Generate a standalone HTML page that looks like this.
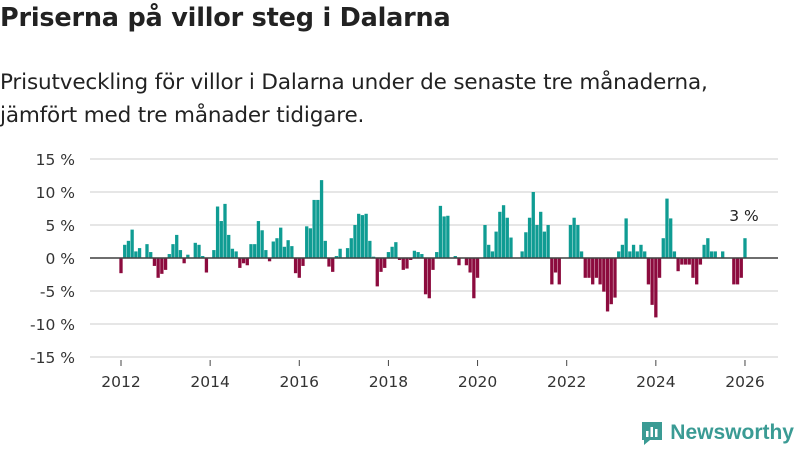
<!DOCTYPE html>
<html><head><meta charset="utf-8">
<style>
body{margin:0;width:800px;height:450px;background:#fff;font-family:"DejaVu Sans",sans-serif;color:#222;overflow:hidden;position:relative}
#title{position:absolute;left:0;top:3px;font-size:25.5px;font-weight:bold;letter-spacing:-0.2px}
#sub{position:absolute;left:0;top:66px;font-size:21.5px;line-height:33px;color:#222;letter-spacing:-0.15px}
#chart{position:absolute;left:0;top:0}
#logo{position:absolute;right:6px;top:420px;display:flex;align-items:center;gap:6px;color:#3a9b94;font-size:21px;font-weight:bold;font-family:"Liberation Sans",sans-serif}
</style></head><body>
<div id="title">Priserna på villor steg i Dalarna</div>
<div id="sub">Prisutveckling för villor i Dalarna under de senaste tre månaderna,<br>jämfört med tre månader tidigare.</div>
<svg id="chart" width="800" height="450"></svg>
<div id="logo">
<svg width="24" height="26" viewBox="0 0 24 26"><path d="M2 2h20v18H10l-6 5v-5H2z" fill="#3a9b94"/><rect x="6" y="11" width="2.5" height="6" fill="#fff"/><rect x="10.5" y="7" width="2.5" height="10" fill="#fff"/><rect x="15" y="9" width="2.5" height="8" fill="#fff"/></svg>
<span>Newsworthy</span></div>
<script>
const startYear = 2012;
const values = [
-2.3,2.0,2.6,4.3,1.0,1.5,0,2.1,0.9,-1.2,-3.0,-2.4,-1.8,0.6,2.1,3.5,1.2,-0.8,0.5,0,2.3,2.0,0.3,-2.2,
0,1.2,7.8,5.6,8.2,3.5,1.4,1.0,-1.5,-0.8,-1.1,2.1,2.1,5.6,4.2,1.2,-0.5,2.5,3.0,4.6,1.7,2.7,1.8,-2.3,
-3.0,-1.2,4.8,4.5,8.8,8.8,11.8,2.6,-1.3,-2.1,0.3,1.4,0,1.5,3.0,5.0,6.7,6.5,6.7,2.6,0.2,-4.3,-2.1,-1.5,
0.9,1.7,2.4,-0.3,-1.8,-1.6,-0.3,1.1,0.9,0.6,-5.5,-6.1,-1.8,0.9,7.9,6.3,6.4,0,0.3,-1.1,0,-1.1,-2.2,-6.1,-3.0,0,
5.0,2.0,1.0,4.0,7.0,8.0,6.1,3.1,0,0,1.0,3.9,6.1,10.0,5.0,7.0,4.0,5.0,-4.0,-2.2,-4.0,0,0,5.0,6.1,5.0,
1.0,-3.0,-3.0,-4.0,-3.0,-4.0,-5.1,-8.1,-7.0,-6.0,1.0,2.0,6.0,1.0,2.0,1.0,2.0,1.0,-4.0,-7.1,-9.0,-3.0,3.0,9.0,
6.0,1.0,-2.0,-1.0,-1.0,-1.0,-3.0,-4.0,-1.0,2.0,3.0,1.0,1.0,0,1.0,0,0,-4.0,-4.0,-3.0,3.0];
const yTicks = [15,10,5,0,-5,-10,-15];
const xTicks = [2012,2014,2016,2018,2020,2022,2024,2026];
const lastLabel = "3 %";

const svg=document.getElementById('chart');
const NS='http://www.w3.org/2000/svg';
const x0=121, pxPerYear=44.57;
function xs(yearFrac){return x0+(yearFrac-startYear)*pxPerYear;}
function ys(v){return 258-v*6.6;}
function mk(tag,attrs){const e=document.createElementNS(NS,tag);for(const k in attrs)e.setAttribute(k,attrs[k]);svg.appendChild(e);return e;}
yTicks.forEach(t=>{
  const g=mk('line',{x1:90,x2:778,y1:ys(t),y2:ys(t),stroke:'#ddd','stroke-width':1.5});
  
  
  const l=mk('text',{x:75,y:ys(t)+6,'text-anchor':'end','font-size':15.5,fill:'#333','font-family':'DejaVu Sans'});
  l.textContent=t+' %';
  
  
});
const bw=3.3;
values.forEach((v,i)=>{
  if(v===0)return;
  const cx=xs(startYear+i/12);
  const y=Math.min(ys(v),ys(0)), h=Math.abs(ys(v)-ys(0));
  const r=mk('rect',{x:cx-bw/2,y:y,width:bw,height:h,fill:v>0?'#0f9c93':'#8c0b3e'});
  
  
});
const zl=mk('line',{x1:90,x2:778,y1:ys(0),y2:ys(0),stroke:'#444','stroke-width':1.5});


xTicks.forEach(t=>{
  const tk=mk('line',{x1:xs(t),x2:xs(t),y1:360,y2:366,stroke:'#444','stroke-width':1});
  
  
  const l=mk('text',{x:xs(t),y:387,'text-anchor':'middle','font-size':15.5,fill:'#333','font-family':'DejaVu Sans'});
  l.textContent=t;
  
  
});
const li=values.length-1;
const ll=mk('text',{x:xs(startYear+li/12)-1,y:ys(values[li])-17,'text-anchor':'middle','font-size':15.5,fill:'#222','font-family':'DejaVu Sans'});
ll.textContent=lastLabel;


</script>
</body></html>
